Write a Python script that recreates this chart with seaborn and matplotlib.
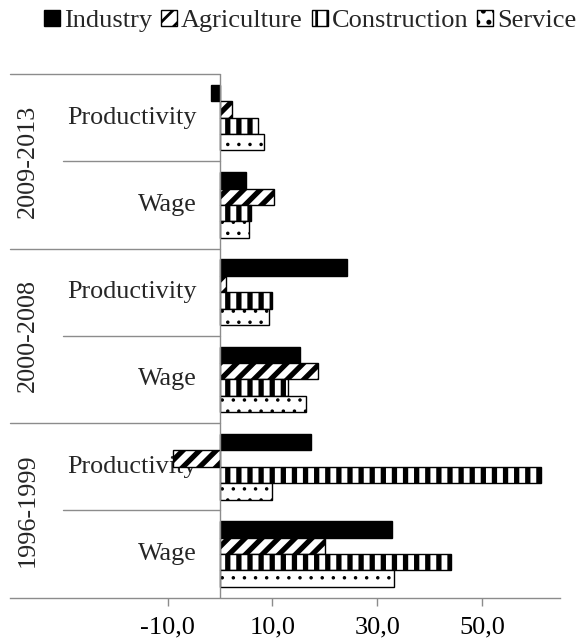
import numpy as np
import pandas as pd
import matplotlib
matplotlib.use("Agg")
import matplotlib.pyplot as plt
import matplotlib.patches as mpatches
from matplotlib.ticker import FixedLocator, FixedFormatter
import seaborn as sns

# data
periods = ["2009-2013", "2000-2008", "1996-1999"]
measures = ["Productivity", "Wage"]
sectors = ["Industry", "Agriculture", "Construction", "Service"]
industry = [-1.7, 5.0, 24.3, 15.3, 17.3, 32.9]
agriculture = [2.3, 10.3, 1.1, 18.7, -9.0, 20.0]
construction = [7.3, 6.0, 9.9, 13.0, 61.2, 44.1]
service = [8.4, 5.5, 9.4, 16.5, 9.9, 33.3]
x_ticks = [-10, 10, 30, 50]
x_tick_labels = ["-10,0", "10,0", "30,0", "50,0"]

sns.set_theme(style="white")
plt.rcParams["font.family"] = ["Liberation Serif", "DejaVu Serif"]

GREY = "#8c8c8c"
hatches = {"Industry": "", "Agriculture": "////", "Construction": "|||", "Service": "..."}
faces = {"Industry": "black", "Agriculture": "white", "Construction": "white", "Service": "white"}
hatch_lw = {"Industry": 0.5, "Agriculture": 1.9, "Construction": 1.9, "Service": 0.45}

rows = [f"{p} {m}" for p in periods for m in measures]
values = {"Industry": industry, "Agriculture": agriculture,
          "Construction": construction, "Service": service}
df = pd.DataFrame([
    {"row": r, "sector": s, "value": values[s][i]}
    for s in sectors for i, r in enumerate(rows)
])

fig = plt.figure(figsize=(582 / 200, 639 / 200), dpi=200)
ax = fig.add_axes([10 / 582, 1 - 597.7 / 639, 550 / 582, 523.7 / 639])

sns.barplot(data=df, y="row", x="value", hue="sector", order=rows,
            hue_order=sectors, orient="h", width=0.75, gap=0,
            errorbar=None, legend=False, ax=ax, zorder=2)

for cont, s in zip(ax.containers, sectors):
    for bar in cont:
        bar.set_facecolor(faces[s])
        bar.set_edgecolor("black")
        bar.set_linewidth(0.5)
        bar.set_hatch(hatches[s])
        if hasattr(bar, "set_hatch_linewidth"):
            bar.set_hatch_linewidth(hatch_lw[s])

x_left = (10 - 220) / 5.24
x_right = (560 - 220) / 5.24
ax.set_xlim(x_left, x_right)
ax.set_ylim(5.5, -0.5)

# axes frame: only the bottom line stays
for side in ["top", "left", "right"]:
    ax.spines[side].set_visible(False)
ax.spines["bottom"].set_color(GREY)
ax.spines["bottom"].set_linewidth(0.5)

ax.xaxis.set_major_locator(FixedLocator(x_ticks))
ax.xaxis.set_major_formatter(FixedFormatter(x_tick_labels))
ax.tick_params(axis="x", bottom=True, direction="out", length=2.9, width=0.5,
               color=GREY, pad=4, labelsize=9.5, labelcolor="black")
ax.tick_params(axis="y", left=False, labelleft=False)
ax.set_xlabel("")
ax.set_ylabel("")
ax.grid(False)

# category axis at zero with grouped labels
ax.plot([0, 0], [-0.5, 5.5], color=GREY, lw=0.5, zorder=3)
for y in [-0.5, 1.5, 3.5]:
    ax.plot([x_left, 0], [y, y], color=GREY, lw=0.5, zorder=3, clip_on=False)
inner_left = (63 - 220) / 5.24
for y in [0.5, 2.5, 4.5]:
    ax.plot([inner_left, 0], [y, y], color=GREY, lw=0.5, zorder=3)

label_x = (197 - 220) / 5.24
for i, r in enumerate(rows):
    m = measures[i % 2]
    ax.text(label_x, i, m, ha="right", va="center", fontsize=9.4, zorder=1)
year_x = (28 - 220) / 5.24
for j, p in enumerate(periods):
    ax.text(year_x, 2 * j + 0.5, p, rotation=90, ha="center", va="center",
            fontsize=9.4, zorder=1)

handles = []
for s in sectors:
    h = mpatches.Patch(facecolor=faces[s], edgecolor="black", hatch=hatches[s],
                       linewidth=0.5)
    handles.append(h)
fig.legend(handles, sectors, loc="center", bbox_to_anchor=(0.533, 1 - 21 / 639),
           ncol=4, frameon=False, fontsize=9.5, handlelength=0.6,
           handleheight=0.6, handletextpad=0.15, columnspacing=0.35,
           borderpad=0, borderaxespad=0)

fig.savefig("out.png", dpi=200)
